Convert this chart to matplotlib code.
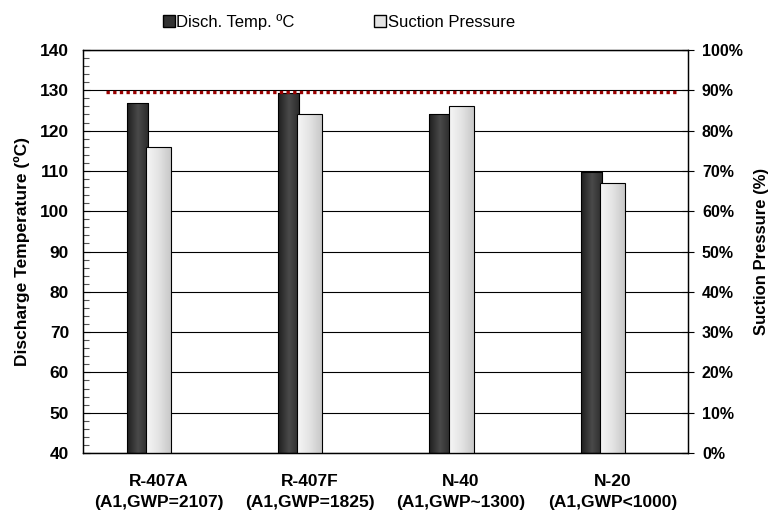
import numpy as np
import matplotlib.pyplot as plt
from matplotlib.ticker import MultipleLocator, PercentFormatter
from matplotlib.lines import Line2D
from matplotlib.colors import LinearSegmentedColormap

plt.rcParams['font.family'] = ['Liberation Sans', 'DejaVu Sans']

refrigerants = ["R-407A\n(A1,GWP=2107)", "R-407F\n(A1,GWP=1825)",
                "N-40\n(A1,GWP~1300)", "N-20\n(A1,GWP<1000)"]
disch_temp = [126.9, 129.4, 124.1, 109.7]      # degC
suction_pct = [0.76, 0.84, 0.86, 0.67]          # fraction
temp_limit = 129.7
limit_span = [-0.35, 3.43]
temp_axis_min = 40

dark_cmap = LinearSegmentedColormap.from_list('dk', ['#1e1e1e', '#4a4a4a', '#2a2a2a'])
light_cmap = LinearSegmentedColormap.from_list('lt', ['#f6f6f6', '#e4e4e4', '#c8c8c8'])


def shade(a, bars, cmap):
    # horizontal gradient inside every bar
    grad = np.linspace(0, 1, 64).reshape(1, -1)
    for b in bars:
        b.set_facecolor('none')
        x0, y0 = b.get_x(), b.get_y()
        im = a.imshow(grad, cmap=cmap, aspect='auto', zorder=1.9,
                      extent=(x0, x0 + b.get_width(), y0, y0 + b.get_height()))
        im.set_clip_path(b)


x = np.arange(len(refrigerants))

fig = plt.figure(figsize=(7.7, 5.15), dpi=100)
ax = fig.add_axes([0.1078, 0.1204, 0.7857, 0.7825])
ax2 = ax.twinx()

ax.set_axisbelow(True)
ax.grid(axis='y', color='black', linewidth=0.8)
b1 = ax.bar(x - 0.14, np.array(disch_temp) - temp_axis_min, width=0.14,
            bottom=temp_axis_min, edgecolor='black', linewidth=0.8, zorder=2)
b2 = ax2.bar(x, suction_pct, width=0.165,
             edgecolor='black', linewidth=0.8, zorder=2)
shade(ax, b1, dark_cmap)
shade(ax2, b2, light_cmap)
ax2.plot(limit_span, [(temp_limit - temp_axis_min) / 100] * 2, color='#9b0000',
         linewidth=2.4, linestyle=(0, (1, 1)), dash_capstyle='butt', zorder=3)

ax.set_xlim(-0.5, len(x) - 0.5)
ax.set_ylim(temp_axis_min, 140)
ax2.set_ylim(0, 1)

ax.yaxis.set_major_locator(MultipleLocator(10))
ax.yaxis.set_minor_locator(MultipleLocator(2))
ax.tick_params(axis='y', which='major', direction='in', length=5, width=0.8,
               labelsize=12.5, pad=10)
ax.tick_params(axis='y', which='minor', direction='in', length=4, width=0.8,
               color='#555555')
for lbl in ax.get_yticklabels():
    lbl.set_fontweight('bold')

ax2.yaxis.set_major_locator(MultipleLocator(0.1))
ax2.yaxis.set_major_formatter(PercentFormatter(1.0, decimals=0))
ax2.tick_params(axis='y', direction='inout', length=8, width=0.8,
                labelsize=11.5, pad=6)
for lbl in ax2.get_yticklabels():
    lbl.set_fontweight('bold')

ax.set_xticks(np.arange(len(x) + 1) - 0.5)
ax.set_xticklabels([])
ax.set_xticks(x, minor=True)
ax.set_xticklabels(refrigerants, minor=True, fontsize=12.5, fontweight='bold',
                   linespacing=1.5)
ax.tick_params(axis='x', which='major', direction='out', length=6, width=0.8)
ax.tick_params(axis='x', which='minor', length=0, pad=15)
ax2.set_xticks([])

for a in (ax, ax2):
    for s in a.spines.values():
        s.set_linewidth(0.9)

ax.set_ylabel("Discharge Temperature (ºC)", fontsize=12.5, fontweight='bold',
              labelpad=7)
ax2.set_ylabel("Suction Pressure (%)", fontsize=12, fontweight='bold',
               labelpad=8)

handles = [Line2D([], [], marker='s', linestyle='none', markersize=9,
                  markerfacecolor='#333333', markeredgecolor='black'),
           Line2D([], [], marker='s', linestyle='none', markersize=9,
                  markerfacecolor='#e4e4e4', markeredgecolor='black')]
fig.legend(handles, ["Disch. Temp. ºC", "Suction Pressure"], ncol=2,
           loc='center', bbox_to_anchor=(0.44, 0.958), frameon=False,
           fontsize=12, handlelength=0.7, handletextpad=0.1,
           columnspacing=4.8)

fig.savefig("out.png", dpi=100)
